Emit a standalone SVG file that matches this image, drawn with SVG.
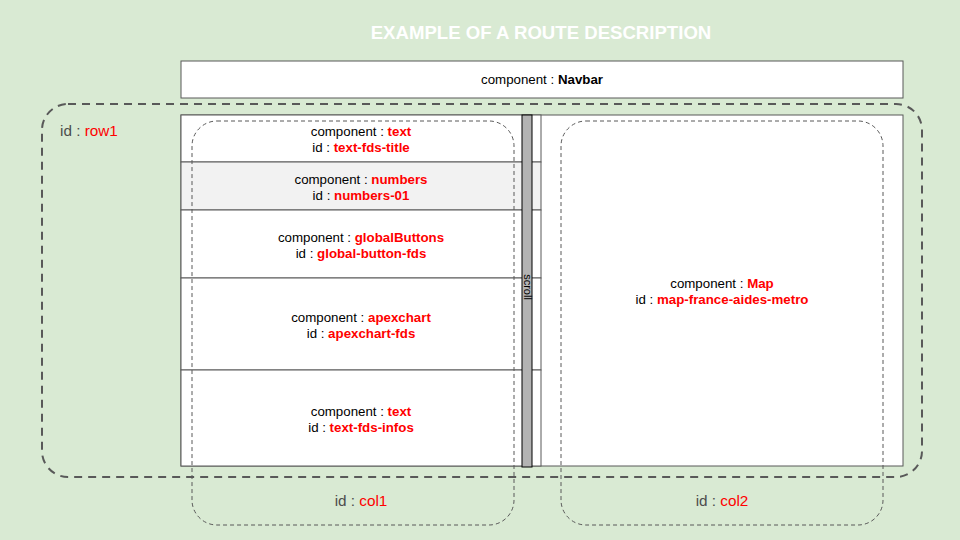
<svg xmlns="http://www.w3.org/2000/svg" width="960" height="540" viewBox="0 0 960 540">
<style>
text{font-family:"Liberation Sans",Arial,sans-serif;font-size:13.3px;fill:#000;text-anchor:middle}
.r{fill:#ff0000;font-weight:bold}
.cell{stroke:#595959;stroke-width:1;fill:#fff}
.col{fill:none;stroke:#595959;stroke-width:1;stroke-dasharray:4 3}
.lbl{font-size:15.3px;fill:#4d4d4d}
.lr{fill:#ff0000;font-weight:normal}
</style>
<rect x="0" y="0" width="960" height="540" fill="#d9ead3"/>
<text x="541" y="39" style="font-size:18.6px;font-weight:bold;fill:#fff">EXAMPLE OF A ROUTE DESCRIPTION</text>
<g id="navbar">
<rect x="181" y="61" width="722" height="37" class="cell"/>
<text x="542" y="84">component : <tspan font-weight="bold">Navbar</tspan></text>
</g>
<g id="row1">
<rect x="42" y="104" width="880" height="373" rx="26" ry="26" fill="none" stroke="#595959" stroke-width="2" stroke-dasharray="8 6"/>
<text x="60" y="136" class="lbl" style="text-anchor:start">id : <tspan class="lr">row1</tspan></text>
</g>
<g id="cells">
<rect x="181" y="115" width="722" height="351" class="cell"/>
<rect x="181" y="115" width="360" height="47" class="cell"/>
<rect x="181" y="162" width="360" height="48" class="cell" style="fill:#f2f2f2"/>
<rect x="181" y="210" width="360" height="68" class="cell"/>
<rect x="181" y="278" width="360" height="92" class="cell"/>
<rect x="181" y="370" width="360" height="96" class="cell"/>
<text x="361" y="136">component : <tspan class="r">text</tspan></text>
<text x="361" y="152">id : <tspan class="r">text-fds-title</tspan></text>
<text x="361" y="184">component : <tspan class="r">numbers</tspan></text>
<text x="361" y="200">id : <tspan class="r">numbers-01</tspan></text>
<text x="361" y="242">component : <tspan class="r">globalButtons</tspan></text>
<text x="361" y="258">id : <tspan class="r">global-button-fds</tspan></text>
<text x="361" y="322">component : <tspan class="r">apexchart</tspan></text>
<text x="361" y="338">id : <tspan class="r">apexchart-fds</tspan></text>
<text x="361" y="416">component : <tspan class="r">text</tspan></text>
<text x="361" y="432">id : <tspan class="r">text-fds-infos</tspan></text>
<text x="722" y="288">component : <tspan class="r">Map</tspan></text>
<text x="722" y="304">id : <tspan class="r">map-france-aides-metro</tspan></text>
</g>
<g id="scroll">
<rect x="522" y="115" width="10" height="352" fill="#b3b3b3" stroke="#000" stroke-width="1"/>
<text x="0" y="0" transform="translate(523.5,287) rotate(90)" style="font-size:11px">scroll</text>
</g>
<g id="col1">
<rect x="192" y="121" width="322" height="404" rx="25" ry="25" class="col"/>
<text x="361" y="506" class="lbl">id : <tspan class="lr">col1</tspan></text>
</g>
<g id="col2">
<rect x="561" y="121" width="322" height="404" rx="25" ry="25" class="col"/>
<text x="722" y="506" class="lbl">id : <tspan class="lr">col2</tspan></text>
</g>
<g id="connectors"/>
</svg>
